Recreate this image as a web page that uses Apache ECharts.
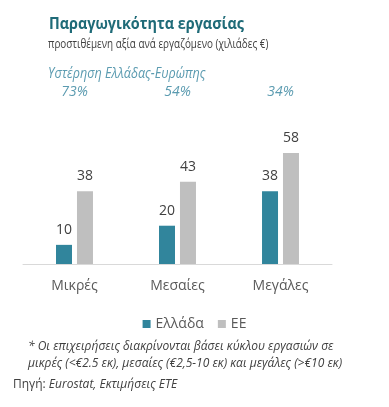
<!DOCTYPE html>
<html>
<head>
<meta charset="utf-8">
<script src="https://cdn.jsdelivr.net/npm/echarts@6/dist/echarts.min.js"></script>
<style>
  html, body { margin: 0; padding: 0; background: #fff; }
  #chart { width: 389px; height: 407px; }
</style>
</head>
<body>
<div id="chart"></div>
<script>
'use strict';

var categories = ['Μικρές', 'Μεσαίες', 'Μεγάλες'];
var greece = [10, 20, 38];
var eu = [38, 43, 58];
var gapLabels = ['73%', '54%', '34%'];

var FONT = '"Open Sans", "Noto Sans", sans-serif';
var TEAL = '#31859C';
var GREY = '#BFBFBF';
var LIGHT_TEAL = '#5B9BB0';

var myChart = echarts.init(document.getElementById('chart'));

var labelStyle = {
    show: true,
    position: 'top',
    distance: 8,
    fontFamily: FONT,
    fontSize: 14,
    color: '#404040'
};

var option = {
    animation: false,
    backgroundColor: '#fff',
    legend: {
        bottom: 71,
        left: 'center',
        itemWidth: 8,
        itemHeight: 8,
        itemGap: 14,
        icon: 'rect',
        textStyle: { fontFamily: FONT, fontSize: 14, color: '#595959' },
        data: ['Ελλάδα', 'ΕΕ']
    },
    grid: { left: 23, right: 57, top: 130, bottom: 143 },
    xAxis: {
        type: 'category',
        data: categories,
        axisLine: { lineStyle: { color: '#D9D9D9', width: 1 } },
        axisTick: { show: false },
        axisLabel: { fontFamily: FONT, fontSize: 14, color: '#595959', margin: 15 }
    },
    yAxis: {
        type: 'value',
        min: 0,
        max: 70,
        show: false,
        splitLine: { show: false }
    },
    series: [{
        name: 'Ελλάδα',
        type: 'bar',
        data: greece,
        barWidth: 16,
        barGap: '31%',
        itemStyle: { color: TEAL },
        label: labelStyle
    }, {
        name: 'ΕΕ',
        type: 'bar',
        data: eu,
        barWidth: 16,
        itemStyle: { color: GREY },
        label: labelStyle
    }]
};

myChart.setOption(option);

// κεφαλίδες (στενεμένες για να μοιάζουν με Calibri)
var headers = [{
    type: 'text',
    x: 49,
    y: 24,
    scaleX: 0.9,
    style: {
        text: 'Παραγωγικότητα εργασίας',
        fontFamily: FONT,
        fontSize: 16,
        fontWeight: 'bold',
        fill: '#1F6B78',
        verticalAlign: 'middle'
    }
}, {
    type: 'text',
    x: 48,
    y: 44,
    scaleX: 0.76,
    style: {
        text: 'προστιθέμενη αξία ανά εργαζόμενο (χιλιάδες €)',
        fontFamily: FONT,
        fontSize: 13,
        fill: '#404040',
        verticalAlign: 'middle'
    }
}, {
    type: 'text',
    x: 48,
    y: 74,
    scaleX: 0.9,
    style: {
        text: 'Υστέρηση Ελλάδας-Ευρώπης',
        fontFamily: FONT,
        fontSize: 14,
        fontStyle: 'italic',
        fill: LIGHT_TEAL,
        verticalAlign: 'middle'
    }
}];

// ποσοστά υστέρησης πάνω από κάθε κατηγορία
var gapTexts = gapLabels.map(function(txt, i) {
    var x = myChart.convertToPixel({ xAxisIndex: 0 }, categories[i]);
    return {
        type: 'text',
        x: x,
        y: 92,
        style: {
            text: txt,
            fontFamily: FONT,
            fontSize: 14,
            fontStyle: 'italic',
            fill: LIGHT_TEAL,
            align: 'center',
            verticalAlign: 'middle'
        }
    };
});

var notes = [{
    type: 'text',
    x: 28,
    y: 355,
    style: {
        text: '* Οι επιχειρήσεις διακρίνονται βάσει κύκλου εργασιών σε\nμικρές (<€2.5 εκ), μεσαίες (€2,5-10 εκ) και μεγάλες (>€10 εκ)',
        fontFamily: FONT,
        fontSize: 12,
        fontStyle: 'italic',
        lineHeight: 17,
        fill: '#404040',
        verticalAlign: 'middle'
    }
}, {
    type: 'text',
    x: 13,
    y: 385,
    style: {
        text: '{a|Πηγή: }{b|Eurostat, Εκτιμήσεις ΕΤΕ}',
        verticalAlign: 'middle',
        rich: {
            a: { fontFamily: FONT, fontSize: 12, fill: '#404040' },
            b: { fontFamily: FONT, fontSize: 12, fontStyle: 'italic', fill: '#404040' }
        }
    }
}];

myChart.setOption({ graphic: headers.concat(gapTexts, notes) });
</script>
</body>
</html>
